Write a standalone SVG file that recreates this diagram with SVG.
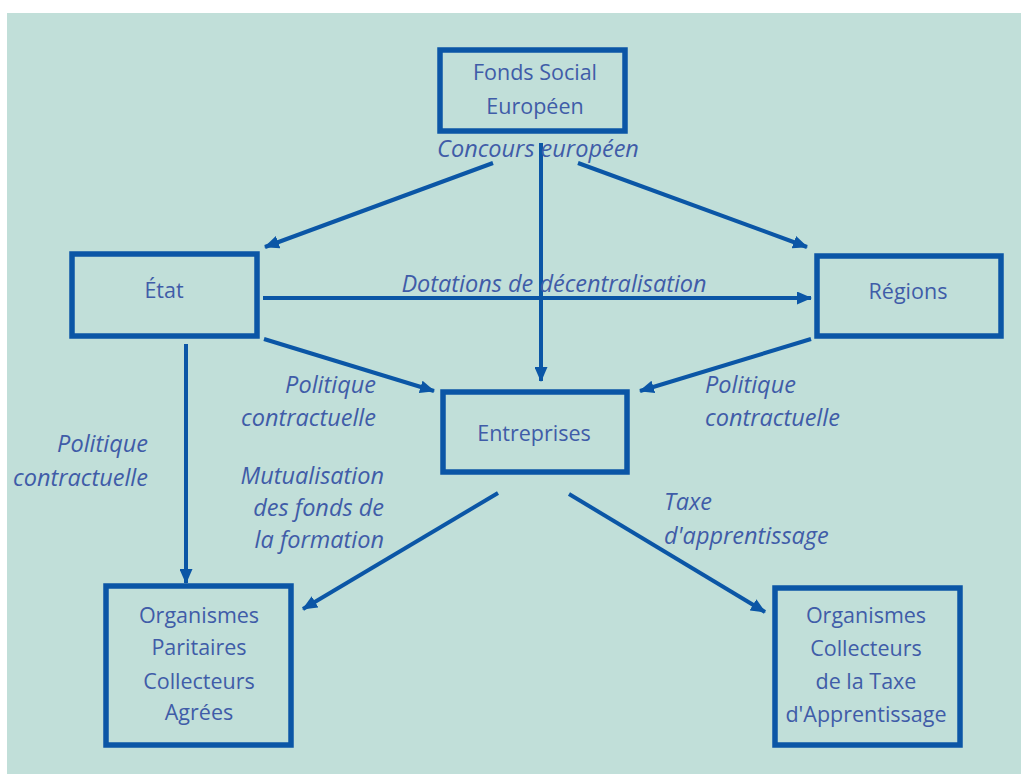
<svg xmlns="http://www.w3.org/2000/svg" width="1021" height="774" viewBox="0 0 1021 774">
  <defs>
    <marker id="head" viewBox="0 0 15 13" refX="14" refY="6.5" markerWidth="15" markerHeight="13" orient="auto" markerUnits="userSpaceOnUse">
      <path d="M0,0 L15,6.5 L0,13 z" fill="#0b56a6"/>
    </marker>
  </defs>
  <style>
    .box { fill: none; stroke: #0b56a6; stroke-width: 5.5; }
    .node { font-family: "Open Sans", "Liberation Sans", sans-serif; font-size: 21.5px; fill: #3f5ca8; text-anchor: middle; }
    .lbl { font-family: "Open Sans", "Liberation Sans", sans-serif; font-size: 23.5px; font-style: italic; fill: #3f5ca8; }
    .edge { stroke: #0b56a6; stroke-width: 4; fill: none; marker-end: url(#head); }
  </style>

  <rect x="0" y="0" width="1021" height="774" fill="#ffffff"/>
  <rect x="7" y="13" width="1014" height="761" fill="#c1dfd9"/>

  <!-- connectors -->
  <g id="connectors">
    <line class="edge" x1="493" y1="163" x2="265" y2="247"/>
    <line class="edge" x1="541" y1="143" x2="541" y2="381"/>
    <line class="edge" x1="578" y1="163" x2="807" y2="247"/>
    <line class="edge" x1="263" y1="298" x2="811" y2="298"/>
    <line class="edge" x1="264" y1="339" x2="434" y2="391"/>
    <line class="edge" x1="811" y1="339" x2="640" y2="391"/>
    <line class="edge" x1="186" y1="344" x2="186" y2="583"/>
    <line class="edge" x1="498" y1="493" x2="303" y2="609"/>
    <line class="edge" x1="569" y1="494" x2="765" y2="612"/>
  </g>

  <!-- connector labels -->
  <g id="labels">
    <text class="lbl" x="538" y="157" text-anchor="middle">Concours  européen</text>
    <text class="lbl" x="554" y="292" text-anchor="middle">Dotations de décentralisation</text>
    <text class="lbl" x="376" y="393" text-anchor="end">Politique</text>
    <text class="lbl" x="376" y="426" text-anchor="end">contractuelle</text>
    <text class="lbl" x="384" y="484" text-anchor="end">Mutualisation</text>
    <text class="lbl" x="384" y="516" text-anchor="end">des fonds de</text>
    <text class="lbl" x="384" y="548" text-anchor="end">la formation</text>
    <text class="lbl" x="705" y="393">Politique</text>
    <text class="lbl" x="705" y="426">contractuelle</text>
    <text class="lbl" x="148" y="452" text-anchor="end">Politique</text>
    <text class="lbl" x="148" y="486" text-anchor="end">contractuelle</text>
    <text class="lbl" x="664" y="510">Taxe</text>
    <text class="lbl" x="664" y="544">d'apprentissage</text>
  </g>

  <!-- nodes -->
  <g id="fse">
    <rect class="box" x="440" y="50" width="185" height="81"/>
    <text class="node" x="535" y="80">Fonds Social</text>
    <text class="node" x="535" y="114">Européen</text>
  </g>
  <g id="etat">
    <rect class="box" x="72" y="254" width="185" height="82"/>
    <text class="node" x="164" y="298">État</text>
  </g>
  <g id="regions">
    <rect class="box" x="817" y="256" width="184" height="80"/>
    <text class="node" x="908" y="299">Régions</text>
  </g>
  <g id="entreprises">
    <rect class="box" x="443" y="392" width="184" height="80"/>
    <text class="node" x="534" y="441">Entreprises</text>
  </g>
  <g id="opca">
    <rect class="box" x="106" y="586" width="185" height="159"/>
    <text class="node" x="199" y="623">Organismes</text>
    <text class="node" x="199" y="655">Paritaires</text>
    <text class="node" x="199" y="689">Collecteurs</text>
    <text class="node" x="199" y="720">Agrées</text>
  </g>
  <g id="octa">
    <rect class="box" x="775" y="588" width="185" height="157"/>
    <text class="node" x="866" y="623">Organismes</text>
    <text class="node" x="866" y="656">Collecteurs</text>
    <text class="node" x="866" y="689">de la Taxe</text>
    <text class="node" x="866" y="722">d'Apprentissage</text>
  </g>
</svg>
